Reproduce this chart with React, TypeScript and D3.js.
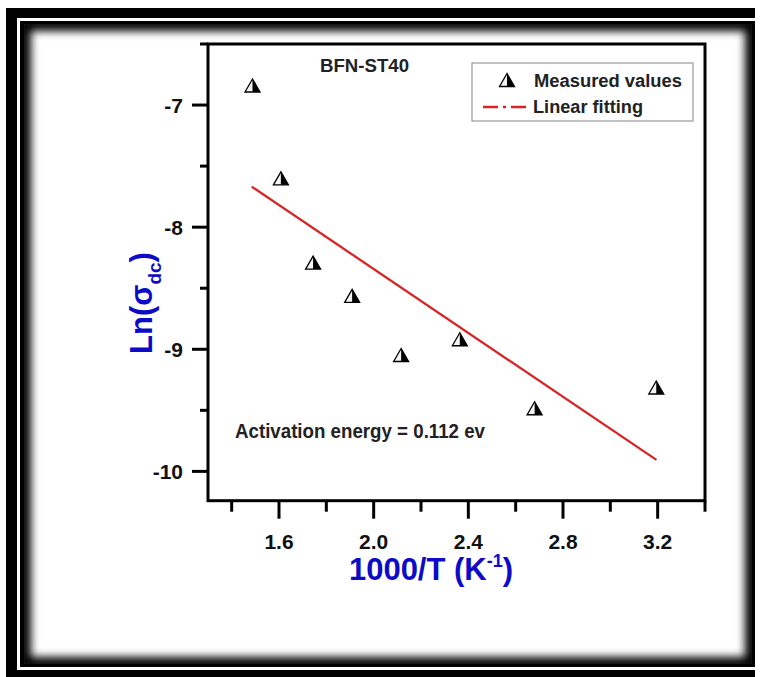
import React from "react";
import * as d3 from "d3";

const xValues = [1.488, 1.608, 1.744, 1.909, 2.116, 2.364, 2.68, 3.194];
const yValues = [-6.84, -7.6, -8.29, -8.563, -9.047, -8.918, -9.483, -9.313];
const fitX = [1.4845, 3.195];
const fitY = [-7.668, -9.906];
const xMajorTicks = [1.6, 2.0, 2.4, 2.8, 3.2];
const xMinorTicks = [1.4, 1.8, 2.2, 2.6, 3.0, 3.4];
const yMajorTicks = [-7, -8, -9, -10];
const yMinorTicks = [-6.5, -7.5, -8.5, -9.5];
const xTickLabels = ["1.6", "2.0", "2.4", "2.8", "3.2"];
const yTickLabels = ["-7", "-8", "-9", "-10"];
const legendLabels = ["Measured values", "Linear fitting"];
const sampleLabel = "BFN-ST40";
const energyLabel = "Activation energy = 0.112 ev";

const W = 760;
const H = 677;
const FONT = "'Liberation Sans', Arial, sans-serif";
const BLUE = "#0c0cc8";
const RED = "#d82424";

const x = d3.scaleLinear().domain([1.3, 3.4]).range([208, 705]);
const y = d3.scaleLinear().domain([-10.24, -6.5]).range([500.7, 44]);

function Marker({ cx, cy }: { cx: number; cy: number }) {
  const hw = 7.5;
  const hh = 6.5;
  const left = `M${cx},${cy - hh} L${cx - hw},${cy + hh} L${cx},${cy + hh} Z`;
  const right = `M${cx},${cy - hh} L${cx},${cy + hh} L${cx + hw},${cy + hh} Z`;
  const all = `M${cx},${cy - hh} L${cx - hw},${cy + hh} L${cx + hw},${cy + hh} Z`;
  return (
    <g>
      <path d={left} fill="#f4f4f4" />
      <path d={right} fill="#000" />
      <path d={all} fill="none" stroke="#000" strokeWidth={1.3} strokeLinejoin="miter" />
    </g>
  );
}

export default function App() {
  const line = d3
    .line<number>()
    .x((d) => x(d))
    .y((_, i) => y(fitY[i]));
  const fitPath = line(fitX) || "";
  const [x0, x1] = x.range();
  const [yb, yt] = y.range();

  return (
    <svg
      width={W}
      height={H}
      style={{ position: "absolute", left: 0, top: 0, background: "#fff" }}
      fontFamily={FONT}
    >
      <defs>
        <clipPath id="content">
          <rect x={24} y={24} width={728} height={640} />
        </clipPath>
        <filter id="blur" x="-10%" y="-10%" width="120%" height="120%">
          <feGaussianBlur stdDeviation={4} />
        </filter>
      </defs>
      {/* frame */}
      <rect x={0} y={0} width={W} height={H} fill="#fff" />
      <rect x={6} y={8} width={749} height={669} fill="#000" />
      <rect x={18.5} y={19.5} width={738} height={649} fill="none" stroke="#fff" strokeWidth={3} />
      <rect x={20} y={21} width={735} height={646} fill="#000" />
      <rect x={24} y={24} width={728} height={640} fill="#fff" />
      <g clipPath="url(#content)">
        <rect x={24} y={24} width={728} height={640} fill="none" stroke="#000" strokeWidth={14} filter="url(#blur)" />
      </g>

      {/* plot frame */}
      <rect x={x0} y={yt} width={x1 - x0} height={yb - yt} fill="none" stroke="#000" strokeWidth={3} />

      {/* x ticks */}
      {xMajorTicks.map((t, i) => (
        <g key={"xm" + i}>
          <line x1={x(t)} x2={x(t)} y1={yb} y2={yb + 18} stroke="#000" strokeWidth={3} />
          <text x={x(t)} y={549} textAnchor="middle" fontSize={21} fontWeight="bold" fill="#111">
            {xTickLabels[i]}
          </text>
        </g>
      ))}
      {xMinorTicks.map((t, i) => (
        <line key={"xn" + i} x1={x(t)} x2={x(t)} y1={yb} y2={yb + 11} stroke="#000" strokeWidth={3} />
      ))}

      {/* y ticks */}
      {yMajorTicks.map((t, i) => (
        <g key={"ym" + i}>
          <line x1={x0 - 16} x2={x0} y1={y(t)} y2={y(t)} stroke="#000" strokeWidth={3} />
          <text x={183} y={y(t) + 7.5} textAnchor="end" fontSize={21} fontWeight="bold" fill="#111">
            {yTickLabels[i]}
          </text>
        </g>
      ))}
      {yMinorTicks.map((t, i) => (
        <line key={"yn" + i} x1={x0 - 8} x2={x0} y1={y(t)} y2={y(t)} stroke="#000" strokeWidth={3} />
      ))}

      {/* axis titles */}
      <text x={431} y={580} textAnchor="middle" fontSize={31} fontWeight="bold" fill={BLUE}>
        1000/T (K
        <tspan fontSize={18} dy={-13}>-1</tspan>
        <tspan dy={13}>)</tspan>
      </text>
      <text
        transform="translate(152,303) rotate(-90)"
        textAnchor="middle"
        fontSize={31}
        fontWeight="bold"
        fill={BLUE}
      >
        Ln(σ
        <tspan fontSize={19} dy={9}>dc</tspan>
        <tspan dy={-9}>)</tspan>
      </text>

      {/* fit line */}
      <path d={fitPath} fill="none" stroke={RED} strokeWidth={2.3} />

      {/* markers */}
      {xValues.map((v, i) => (
        <Marker key={"m" + i} cx={x(v)} cy={y(yValues[i])} />
      ))}

      {/* annotations */}
      <text x={364.5} y={72} textAnchor="middle" fontSize={19} fontWeight="bold" fill="#222" textLength={89} lengthAdjust="spacingAndGlyphs">
        {sampleLabel}
      </text>
      <text x={235} y={438} fontSize={19.5} fontWeight="bold" fill="#222" textLength={250} lengthAdjust="spacingAndGlyphs">
        {energyLabel}
      </text>

      {/* legend */}
      <rect x={472} y={63} width={221} height={58} fill="#fff" stroke="#999" strokeWidth={1.2} />
      <Marker cx={507} cy={80} />
      <text x={534} y={87} fontSize={18} fontWeight="bold" fill="#222" textLength={148} lengthAdjust="spacingAndGlyphs">
        {legendLabels[0]}
      </text>
      <line x1={483} x2={528} y1={107} y2={107} stroke={RED} strokeWidth={2.3} strokeDasharray="15,5,3,5" />
      <text x={533} y={113} fontSize={18} fontWeight="bold" fill="#222" textLength={110} lengthAdjust="spacingAndGlyphs">
        {legendLabels[1]}
      </text>
    </svg>
  );
}
